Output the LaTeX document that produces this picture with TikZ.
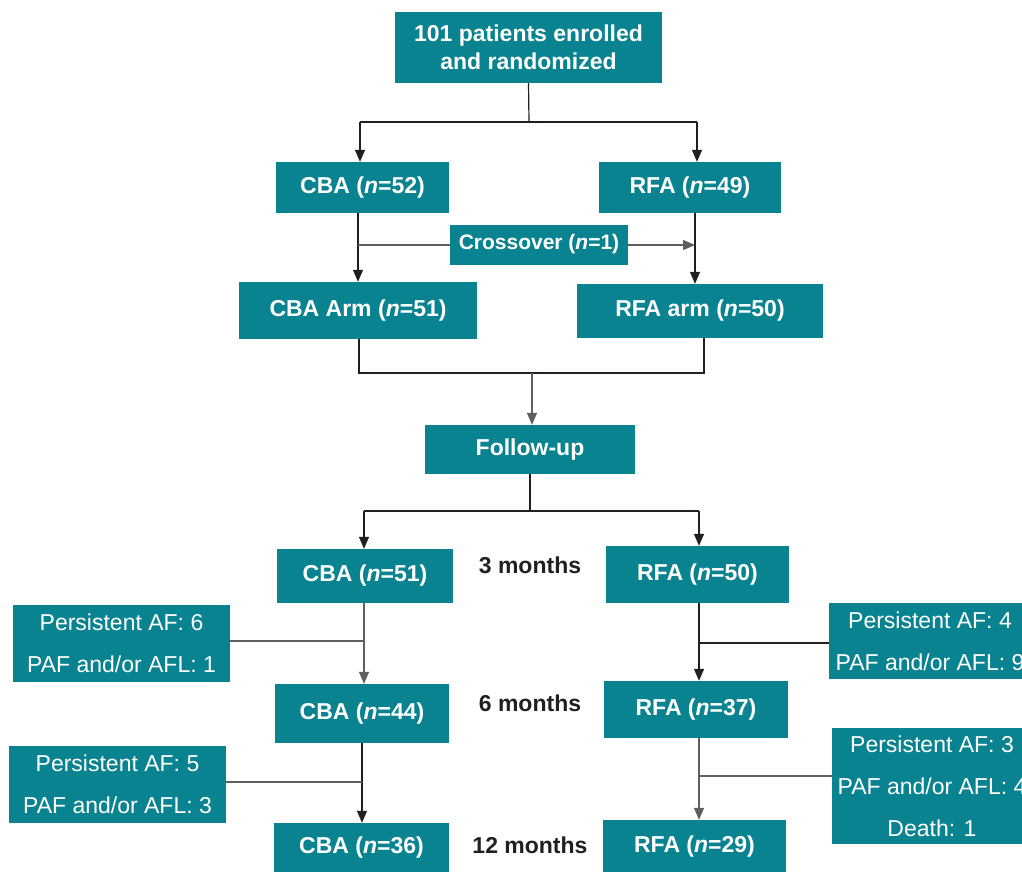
\documentclass[tikz,border=0pt]{standalone}
\usepackage{fontspec}
\setmainfont{Liberation Sans}
\usetikzlibrary{arrows.meta}
\definecolor{teal1}{RGB}{10,131,145}
\definecolor{ink}{RGB}{35,31,32}
\definecolor{lgray}{RGB}{95,95,95}
\begin{document}
\begin{tikzpicture}[x=1pt,y=-1pt,
  box/.style={fill=teal1,text=white,inner sep=0pt,align=center,font=\fontsize{23}{28}\selectfont\bfseries},
  sidebox/.style={fill=teal1,text=white,inner sep=0pt,align=center,font=\fontsize{23}{42}\selectfont},
  lbl/.style={text=ink,inner sep=0pt,font=\fontsize{23}{28}\selectfont\bfseries},
  ln/.style={draw=ink,line width=1.2pt},
  sln/.style={draw=lgray,line width=1.2pt},
  arr/.style={ln,-{Triangle[length=12pt,width=10pt]}}]
\useasboundingbox (0,0) rectangle (1022,871);
\clip (0,0) rectangle (1022,871);
% boxes
\node[box,minimum width=267,minimum height=71] (top) at (528.5,47.5) {101 patients enrolled\\and randomized};
\node[box,minimum width=173,minimum height=51] (cba1) at (362.5,187.5) {CBA (\textit{n}=52)};
\node[box,minimum width=182,minimum height=51] (rfa1) at (690,187.5) {RFA (\textit{n}=49)};
\node[box,minimum width=178,minimum height=40,font=\fontsize{21}{25}\selectfont\bfseries] (cross) at (539,244.5) {Crossover (\textit{n}=1)};
\node[box,minimum width=238,minimum height=57] (cbaarm) at (358,310.5) {CBA Arm (\textit{n}=51)};
\node[box,minimum width=246,minimum height=54] (rfaarm) at (700,311) {RFA arm (\textit{n}=50)};
\node[box,minimum width=210,minimum height=49] (fu) at (530,449.5) {Follow-up};
\node[box,minimum width=176,minimum height=54] (cba51) at (365,576) {CBA (\textit{n}=51)};
\node[box,minimum width=183,minimum height=57] (rfa50) at (697.5,574.5) {RFA (\textit{n}=50)};
\node[box,minimum width=174,minimum height=59] (cba44) at (362,713.5) {CBA (\textit{n}=44)};
\node[box,minimum width=175,minimum height=50] (cba36) at (361.5,848) {CBA (\textit{n}=36)};
\node[box,minimum width=184,minimum height=57] (rfa37) at (696,709.5) {RFA (\textit{n}=37)};
\node[box,minimum width=183,minimum height=53] (rfa29) at (694.5,846.5) {RFA (\textit{n}=29)};
\node[sidebox,minimum width=217,minimum height=77] (l1) at (121.5,643.5) {Persistent AF: 6\\PAF and/or AFL: 1};
\node[sidebox,minimum width=217,minimum height=77] (l2) at (117.5,784.5) {Persistent AF: 5\\PAF and/or AFL: 3};
\node[sidebox,minimum width=202,minimum height=76] (r1) at (930,641) {Persistent AF: 4\\PAF and/or AFL: 9};
\node[sidebox,minimum width=200,minimum height=116] (r2) at (932,786) {Persistent AF: 3\\PAF and/or AFL: 4\\Death: 1};
\node[lbl] (m3) at (530,565) {3 months};
\node[lbl] (m6) at (530,703) {6 months};
\node[lbl] (m12) at (530,845) {12 months};
% coordinates
\coordinate (s1) at (529,122);
\coordinate (s1L) at (360,122);
\coordinate (s1R) at (697,122);
\coordinate (xl) at (358,245);
\coordinate (xr) at (695,245);
\coordinate (rv) at (695,213);
\coordinate (aL) at (359,373);
\coordinate (aR) at (704,373);
\coordinate (aM) at (532,373);
\coordinate (f1) at (530,511);
\coordinate (fL) at (364,511);
\coordinate (fR) at (699,511);
\coordinate (c1) at (364,641);
\coordinate (c2) at (362,782);
\coordinate (r1p) at (699,643);
\coordinate (r2p) at (699,776);
% connectors
\draw[ln] (top.south) -- (s1);
\draw[ln] (s1L) -- (s1R);
\draw[arr] (s1L) -- (s1L |- cba1.north);
\draw[arr] (s1R) -- (s1R |- rfa1.north);
\draw[arr] (cba1.south -| cbaarm.north) -- (cbaarm.north);
\draw[arr] (rfa1.south -| rv) -- (rfaarm.north -| rv);
\draw[sln] (xl) -- (cross.west |- xl);
\draw[sln,-{Triangle[length=12pt,width=10pt]}] (cross.east |- xr) -- (xr);
\draw[ln] (cbaarm.south -| aL) -- (aL) -- (aR) -- (rfaarm.south -| aR);
\draw[arr,draw=lgray] (aM) -- (fu.north -| aM);
\draw[ln] (fu.south -| f1) -- (f1);
\draw[ln] (fL) -- (fR);
\draw[arr] (fL) -- (cba51.north -| fL);
\draw[arr] (fR) -- (rfa50.north -| fR);
\draw[arr,draw=lgray] (cba51.south -| c1) -- (cba44.north -| c1);
\draw[sln] (l1.east |- c1) -- (c1);
\draw[arr] (cba44.south -| c2) -- (cba36.north -| c2);
\draw[sln] (l2.east |- c2) -- (c2);
\draw[arr] (rfa50.south -| r1p) -- (rfa37.north -| r1p);
\draw[ln] (r1p) -- (r1.west |- r1p);
\draw[arr,draw=lgray] (rfa37.south -| r2p) -- (rfa29.north -| r2p);
\draw[sln] (r2p) -- (r2.west |- r2p);
\end{tikzpicture}
\end{document}
